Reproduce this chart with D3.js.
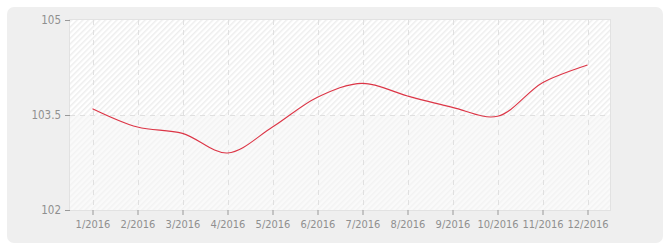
<!DOCTYPE html>
<html><head><meta charset="utf-8">
<script src="https://cdn.jsdelivr.net/npm/d3@7"></script>
<style>body{margin:0;background:#fff}svg{display:block}text{font-family:"DejaVu Sans Condensed","DejaVu Sans",Verdana,sans-serif;font-stretch:condensed}</style>
</head><body><svg id="c" width="670" height="250"></svg>
<script>
const categories = ["1/2016","2/2016","3/2016","4/2016","5/2016","6/2016","7/2016","8/2016","9/2016","10/2016","11/2016","12/2016"];
const values = [103.60,103.31,103.21,102.90,103.31,103.78,104.00,103.80,103.62,103.48,104.01,104.29];
const yTicks = [102,103.5,105];
const yTickLabels = ["102","103.5","105"];

const svg = d3.select("#c");
const W=670,H=250;
const m={l:70,r:60,t:20,b:40};
const pw=W-m.l-m.r, ph=H-m.t-m.b;

const defs=svg.append("defs");
const pat=defs.append("pattern").attr("id","hatch").attr("patternUnits","userSpaceOnUse")
  .attr("width",4).attr("height",4).attr("patternTransform","rotate(45)");
pat.append("rect").attr("width",4).attr("height",4).attr("fill","#ffffff");
pat.append("line").attr("x1",0.75).attr("y1",0).attr("x2",0.75).attr("y2",4).attr("stroke","#eeeeee").attr("stroke-width",1.5);
const pat2=defs.append("pattern").attr("id","hatch2").attr("patternUnits","userSpaceOnUse")
  .attr("width",4).attr("height",4).attr("patternTransform","rotate(45)");
pat2.append("rect").attr("width",4).attr("height",4).attr("fill","#fafafa");
pat2.append("line").attr("x1",0.75).attr("y1",0).attr("x2",0.75).attr("y2",4).attr("stroke","#f3f3f3").attr("stroke-width",1.5);

svg.append("rect").attr("x",7).attr("y",7).attr("width",656).attr("height",236).attr("rx",7).attr("fill","#efefef");

const x=d3.scalePoint().domain(categories).range([m.l,m.l+pw]).padding(0.5);
const y=d3.scaleLinear().domain([102,105]).range([m.t+ph,m.t]);

svg.append("rect").attr("x",m.l).attr("y",y(105)).attr("width",pw).attr("height",y(103.5)-y(105)).attr("fill","url(#hatch)");
svg.append("rect").attr("x",m.l).attr("y",y(103.5)).attr("width",pw).attr("height",y(102)-y(103.5)).attr("fill","url(#hatch2)");
svg.append("rect").attr("x",m.l-0.5).attr("y",m.t-0.5).attr("width",pw+1).attr("height",ph+1).attr("fill","none").attr("stroke","#e2e2e2");

// grid
svg.append("g").selectAll("line").data(categories).join("line")
  .attr("x1",d=>Math.round(x(d))+0.5).attr("x2",d=>Math.round(x(d))+0.5)
  .attr("y1",m.t).attr("y2",m.t+ph).attr("stroke","#e0e0e0").attr("stroke-dasharray","5,5");
svg.append("g").selectAll("line").data(yTicks.slice(1,2)).join("line")
  .attr("x1",m.l).attr("x2",m.l+pw).attr("y1",d=>Math.round(y(d))+0.5).attr("y2",d=>Math.round(y(d))+0.5)
  .attr("stroke","#e0e0e0").attr("stroke-dasharray","5,5");

// axes
const ya=svg.append("g").attr("transform",`translate(${m.l},0)`)
  .call(d3.axisLeft(y).tickValues(yTicks).tickFormat((d,i)=>yTickLabels[i]).tickSize(5).tickPadding(4));
ya.select(".domain").remove();
ya.selectAll("line").attr("stroke","#999");
ya.selectAll("text").attr("fill","#8f8f8f").attr("font-size",11.5);

const xa=svg.append("g").attr("transform",`translate(0,${m.t+ph})`)
  .call(d3.axisBottom(x).tickSize(5).tickPadding(5));
xa.select(".domain").remove();
xa.selectAll("line").attr("stroke","#999");
xa.selectAll("text").attr("fill","#8f8f8f").attr("font-size",11);

const line=d3.line().x((d,i)=>x(categories[i])).y(d=>y(d)).curve(d3.curveCatmullRom.alpha(0.5));
svg.append("path").datum(values).attr("d",line).attr("fill","none").attr("stroke","#dc3546").attr("stroke-width",1.1);
</script></body></html>
